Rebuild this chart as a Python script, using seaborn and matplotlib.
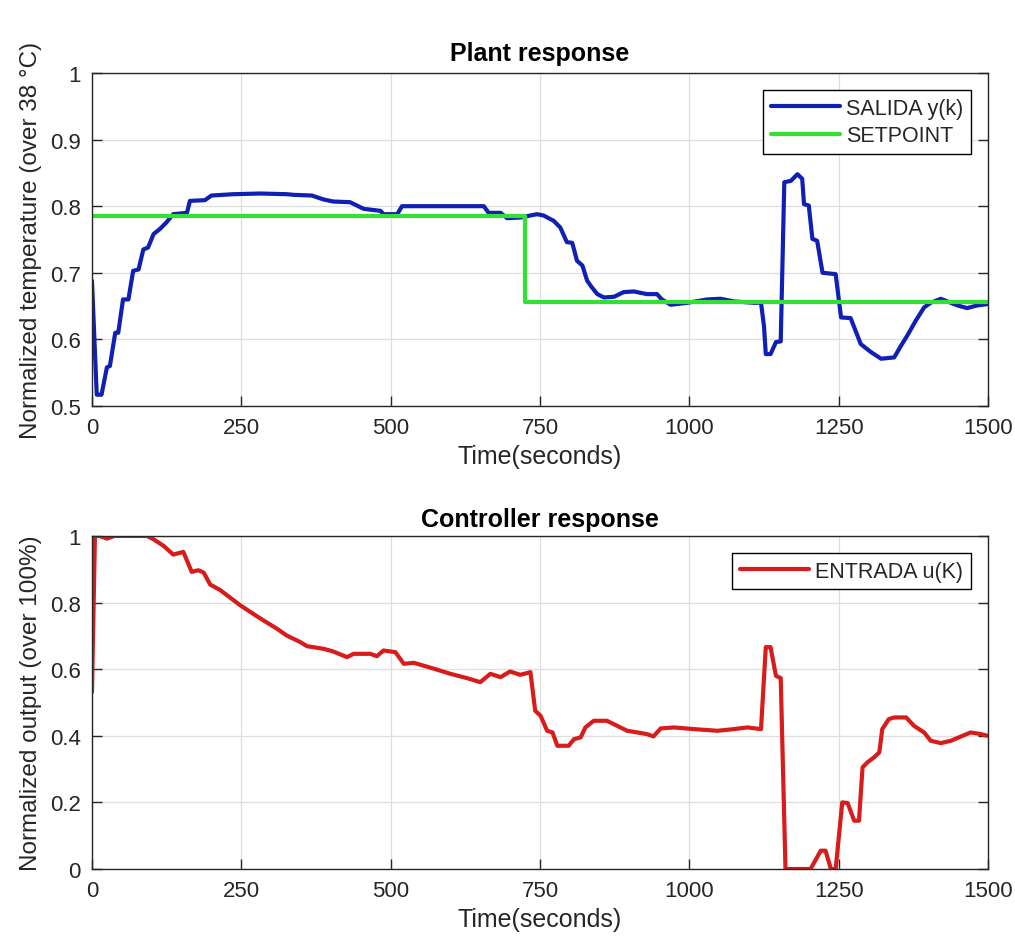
import numpy as np
import pandas as pd
import matplotlib
matplotlib.use("Agg")
import matplotlib.pyplot as plt
from matplotlib.ticker import FuncFormatter
import seaborn as sns

# plant output y(k)
t_y = [0, 8, 16, 25, 30, 39, 44, 52, 61, 69, 78, 86, 94, 103, 114, 125, 136, 159, 164,
       189, 200, 237, 282, 326, 338, 368, 388, 404, 432, 455, 483, 488, 511, 519, 572,
       656, 664, 684, 695, 717, 745, 756, 773, 784, 795, 804, 812, 821, 829, 837, 846,
       857, 874, 890, 907, 929, 946, 954, 969, 997, 1030, 1052, 1075, 1108, 1120, 1125,
       1128, 1136, 1145, 1153, 1159, 1170, 1181, 1189, 1192, 1200, 1206, 1214, 1223,
       1245, 1254, 1270, 1287, 1304, 1321, 1343, 1354, 1365, 1379, 1393, 1404, 1421,
       1432, 1449, 1465, 1482, 1499]
y_out = [0.688, 0.517, 0.517, 0.558, 0.56, 0.61, 0.61, 0.66, 0.66, 0.703, 0.705, 0.735,
         0.738, 0.758, 0.766, 0.776, 0.788, 0.79, 0.808, 0.809, 0.816, 0.818, 0.819,
         0.818, 0.817, 0.816, 0.81, 0.807, 0.806, 0.796, 0.793, 0.788, 0.788, 0.80,
         0.80, 0.80, 0.79, 0.79, 0.782, 0.783, 0.788, 0.786, 0.778, 0.768, 0.746, 0.745,
         0.718, 0.711, 0.688, 0.678, 0.668, 0.663, 0.664, 0.671, 0.672, 0.668, 0.668,
         0.66, 0.652, 0.655, 0.66, 0.661, 0.657, 0.655, 0.655, 0.62, 0.578, 0.578,
         0.596, 0.597, 0.836, 0.838, 0.848, 0.841, 0.803, 0.801, 0.751, 0.748, 0.70,
         0.698, 0.633, 0.632, 0.593, 0.581, 0.571, 0.573, 0.59, 0.606, 0.628, 0.648,
         0.655, 0.661, 0.657, 0.651, 0.647, 0.651, 0.653]

# setpoint
t_sp = [0, 725, 725, 1500]
sp = [0.786, 0.786, 0.656, 0.656]

# controller output u(k)
t_u = [0, 5, 13, 25, 38, 92, 103, 120, 136, 153, 167, 178, 187, 198, 215, 248, 282,
       310, 326, 349, 360, 388, 404, 427, 438, 466, 477, 488, 508, 522, 539, 573, 600,
       628, 650, 667, 684, 700, 717, 734, 742, 751, 762, 771, 779, 798, 807, 818, 826,
       840, 862, 879, 896, 913, 929, 940, 952, 974, 1008, 1047, 1075, 1097, 1120, 1128,
       1136, 1145, 1153, 1161, 1203, 1220, 1228, 1237, 1245, 1256, 1265, 1276, 1284,
       1290, 1298, 1309, 1318, 1323, 1334, 1343, 1363, 1376, 1393, 1404, 1421, 1438,
       1455, 1471, 1488, 1499]
u_out = [0.531, 1.0, 1.0, 0.992, 1.0, 1.0, 0.99, 0.97, 0.944, 0.952, 0.892, 0.897,
         0.89, 0.854, 0.837, 0.792, 0.752, 0.721, 0.701, 0.681, 0.669, 0.661, 0.653,
         0.636, 0.646, 0.646, 0.639, 0.656, 0.651, 0.616, 0.619, 0.601, 0.586, 0.573,
         0.561, 0.586, 0.576, 0.593, 0.583, 0.591, 0.475, 0.46, 0.415, 0.41, 0.37, 0.37,
         0.39, 0.395, 0.425, 0.445, 0.445, 0.43, 0.415, 0.41, 0.405, 0.398, 0.422,
         0.425, 0.42, 0.415, 0.42, 0.425, 0.42, 0.666, 0.666, 0.58, 0.573, 0.0, 0.0,
         0.055, 0.055, 0.0, 0.0, 0.2, 0.198, 0.145, 0.145, 0.305, 0.32, 0.335, 0.35,
         0.42, 0.45, 0.455, 0.455, 0.43, 0.41, 0.385, 0.378, 0.385, 0.398, 0.41, 0.405,
         0.40]

x_ticks = [0, 250, 500, 750, 1000, 1250, 1500]

sns.set_style("white")
plt.rcParams['font.family'] = ['Liberation Sans', 'DejaVu Sans']

fig = plt.figure(figsize=(10.15, 9.53), dpi=100)
ax1 = fig.add_axes([0.0906, 0.5729, 0.8828, 0.3495])
ax2 = fig.add_axes([0.0906, 0.0871, 0.8828, 0.3495])

sns.lineplot(x=t_y, y=y_out, ax=ax1, color='#1020b4', linewidth=3, label='SALIDA y(k)',
             sort=False, estimator=None)
sns.lineplot(x=t_sp, y=sp, ax=ax1, color='#33e033', linewidth=3, label='SETPOINT',
             sort=False, estimator=None)
sns.lineplot(x=t_u, y=u_out, ax=ax2, color='#d81c1c', linewidth=3, label='ENTRADA u(K)',
             sort=False, estimator=None)

fmt = FuncFormatter(lambda v, p: ('%g' % round(v, 2)))
for ax, title, ylab, yl, yt, tpad in [
        (ax1, 'Plant response', 'Normalized temperature (over 38 °C)', (0.5, 1.0),
         [0.5, 0.6, 0.7, 0.8, 0.9, 1.0], 9),
        (ax2, 'Controller response', 'Normalized output (over 100%)', (0, 1.0),
         [0, 0.2, 0.4, 0.6, 0.8, 1.0], 7)]:
    ax.set_xlim(0, 1500)
    ax.set_ylim(*yl)
    ax.set_xticks(x_ticks)
    ax.set_yticks(yt)
    ax.yaxis.set_major_formatter(fmt)
    ax.grid(True, color='#dedede', linewidth=0.9)
    ax.set_axisbelow(True)
    for s in ax.spines.values():
        s.set_visible(True)
        s.set_color('#262626')
        s.set_linewidth(1.0)
    ax.tick_params(direction='in', length=7, width=1.0, colors='#262626',
                   labelsize=16, pad=8, top=False, right=True, bottom=True, left=True)
    ax.set_title(title, fontsize=18, fontweight='bold', color='black', pad=tpad)
    ax.set_xlabel('Time(seconds)', fontsize=18, color='#262626', labelpad=4)
    ax.set_ylabel(ylab, fontsize=17.5, color='#262626', labelpad=6)
    leg = ax.legend(loc='upper right', fontsize=15.5, frameon=True, fancybox=False,
                    edgecolor='black', framealpha=1, handlelength=3.2,
                    borderaxespad=0.8, handletextpad=0.3, borderpad=0.35,
                    labelspacing=0.3)
    leg.get_frame().set_linewidth(1.0)

fig.savefig('out.png', dpi=100)
